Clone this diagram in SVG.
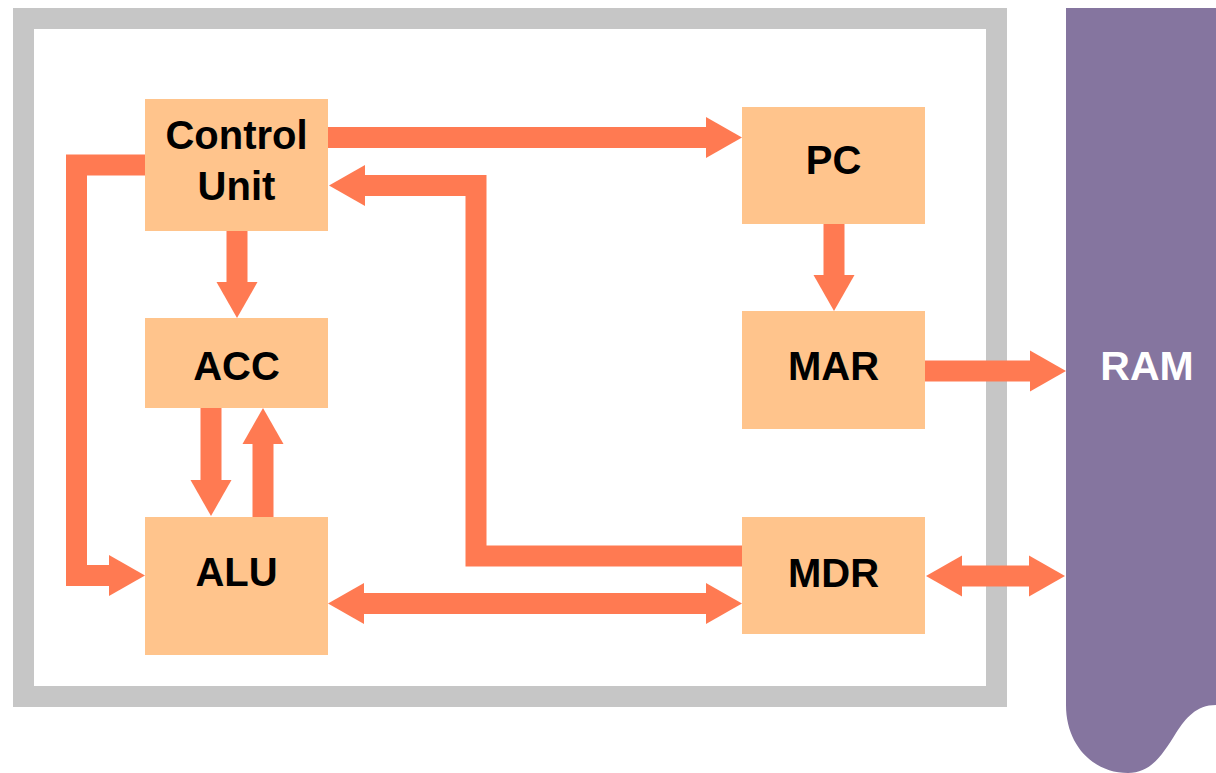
<svg xmlns="http://www.w3.org/2000/svg" width="1216" height="773" viewBox="0 0 1216 773">
<style>
.box{fill:#FFC48C}
.lbl{font-family:"Liberation Sans",Arial,sans-serif;font-weight:bold;font-size:40px;fill:#000;text-anchor:middle}
.ar{fill:none;stroke:#FF7A52;stroke-width:21;stroke-linejoin:miter;stroke-linecap:butt}
</style>
<defs>
<marker id="h" markerUnits="userSpaceOnUse" markerWidth="37" markerHeight="41" refX="0" refY="20.5" orient="auto-start-reverse" overflow="visible">
<path d="M0,0 L36,20.5 L0,41 Z" fill="#FF7A52"/>
</marker>
</defs>
<rect width="1216" height="773" fill="#fff"/>
<g id="cpu-frame">
<rect x="23.5" y="18.5" width="973" height="678" fill="none" stroke="#C6C6C6" stroke-width="21"/>
</g>
<g id="ram">
<path d="M1066,8 H1216 V705 C1196,705 1186,718 1176,733 C1162,756 1150,773 1128,773 C1093,773 1066,745 1066,705 Z" fill="#85759F"/>
<text x="1147" y="380" style="font-family:'Liberation Sans',Arial,sans-serif;font-weight:bold;font-size:41px;fill:#fff;text-anchor:middle">RAM</text>
</g>
<g id="control-unit">
<rect class="box" x="145" y="99" width="183" height="132"/>
<text class="lbl" x="236.5" y="149">Control</text>
<text class="lbl" x="236.5" y="200">Unit</text>
</g>
<g id="acc">
<rect class="box" x="145" y="318" width="183" height="90"/>
<text class="lbl" x="236.5" y="380">ACC</text>
</g>
<g id="alu">
<rect class="box" x="145" y="517" width="183" height="138"/>
<text class="lbl" x="236.5" y="586">ALU</text>
</g>
<g id="pc">
<rect class="box" x="742" y="107" width="183" height="117"/>
<text class="lbl" x="833.5" y="174">PC</text>
</g>
<g id="mar">
<rect class="box" x="742" y="311" width="183" height="118"/>
<text class="lbl" x="833.5" y="380">MAR</text>
</g>
<g id="mdr">
<rect class="box" x="742" y="517" width="183" height="117"/>
<text class="lbl" x="833.5" y="587">MDR</text>
</g>
<g id="connectors">
<path class="ar" d="M328,137.5 H706" marker-end="url(#h)"/>
<path class="ar" d="M742,556 H476 V185.5 H365" marker-end="url(#h)"/>
<path class="ar" d="M145,165 H76.5 V575.5 H109" marker-end="url(#h)"/>
<path class="ar" d="M237,231 V282" marker-end="url(#h)"/>
<path class="ar" d="M211,408 V480" marker-end="url(#h)"/>
<path class="ar" d="M263,517 V444" marker-end="url(#h)"/>
<path class="ar" d="M364,603.5 H706" marker-start="url(#h)" marker-end="url(#h)"/>
<path class="ar" d="M834,224 V275" marker-end="url(#h)"/>
<path class="ar" d="M925,371 H1030" marker-end="url(#h)"/>
<path class="ar" d="M962,576 H1029" marker-start="url(#h)" marker-end="url(#h)"/>
</g>
</svg>
